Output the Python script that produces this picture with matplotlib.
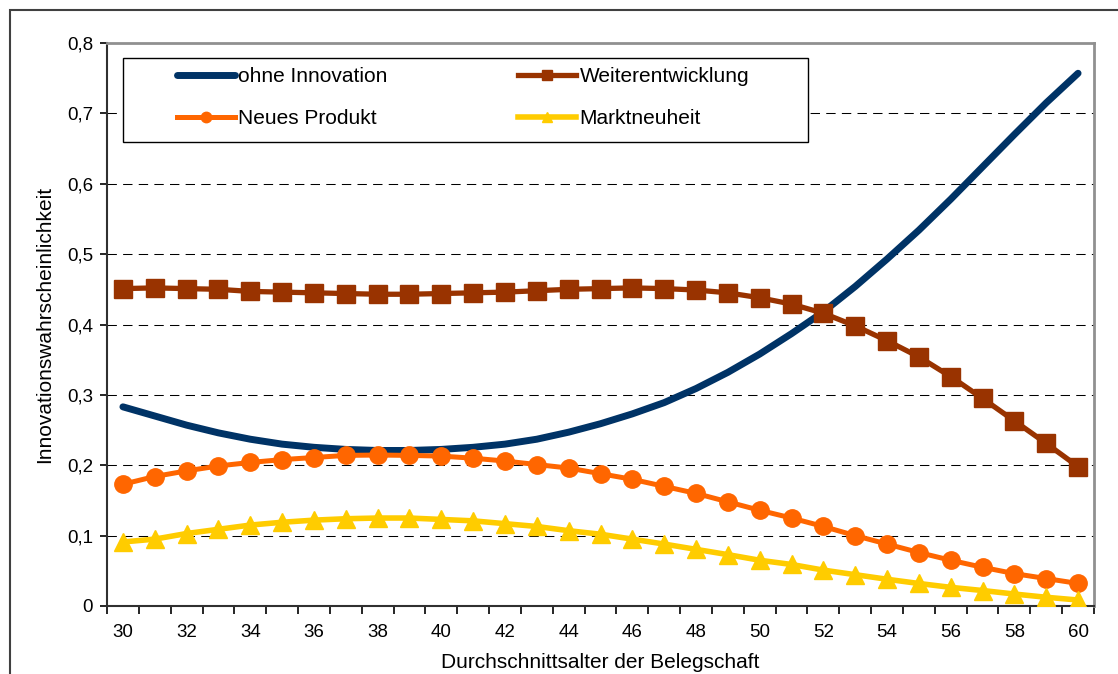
import matplotlib
matplotlib.use("Agg")
import matplotlib.pyplot as plt
from matplotlib.patches import Rectangle
import numpy as np

plt.rcParams['font.family'] = ['Liberation Sans', 'DejaVu Sans']

# Daten
alter = list(range(30, 61))
ohne_innovation = [0.283, 0.270, 0.257, 0.246, 0.237, 0.230, 0.2255, 0.2225, 0.221, 0.221,
                   0.2225, 0.2255, 0.230, 0.237, 0.247, 0.259, 0.273, 0.289, 0.309, 0.332,
                   0.358, 0.387, 0.418, 0.454, 0.493, 0.534, 0.578, 0.624, 0.670, 0.715, 0.757]
weiterentwicklung = [0.451, 0.452, 0.451, 0.450, 0.447, 0.446, 0.445, 0.444, 0.443, 0.443,
                     0.444, 0.445, 0.446, 0.448, 0.450, 0.451, 0.452, 0.451, 0.449, 0.445,
                     0.438, 0.429, 0.416, 0.398, 0.377, 0.354, 0.326, 0.295, 0.263, 0.231, 0.198]
neues_produkt = [0.173, 0.184, 0.192, 0.199, 0.204, 0.208, 0.211, 0.214, 0.2145, 0.214,
                 0.213, 0.210, 0.206, 0.201, 0.196, 0.188, 0.180, 0.170, 0.160, 0.148,
                 0.136, 0.125, 0.113, 0.100, 0.088, 0.076, 0.065, 0.055, 0.046, 0.039, 0.032]
marktneuheit = [0.091, 0.095, 0.103, 0.109, 0.115, 0.119, 0.122, 0.124, 0.125, 0.125,
                0.123, 0.121, 0.117, 0.113, 0.107, 0.102, 0.095, 0.088, 0.0805, 0.073,
                0.065, 0.059, 0.051, 0.0445, 0.038, 0.032, 0.0265, 0.022, 0.017, 0.0124, 0.0085]
y_ticks = [0, 0.1, 0.2, 0.3, 0.4, 0.5, 0.6, 0.7, 0.8]

W, H = 1118, 674
fig = plt.figure(figsize=(W / 100, H / 100), dpi=100)

# Rahmen um das Diagramm
fig.patches.append(Rectangle((10 / W, -0.1), 2, 1.1 - 10 / H, transform=fig.transFigure,
                             fill=False, edgecolor='#404040', linewidth=1.5))

ax = fig.add_axes([107 / W, (H - 606) / H, (1094 - 107) / W, (606 - 43) / H])
x = np.arange(len(alter))

# Gitterlinien
for yv in y_ticks[1:-1]:
    ax.axhline(yv, color='black', linewidth=0.75, linestyle=(0, (9, 6)), zorder=1)

ax.plot(x, ohne_innovation, color='#003366', linewidth=5, solid_capstyle='round',
        label='ohne Innovation', zorder=3)
ax.plot(x, weiterentwicklung, color='#993300', linewidth=3.8, marker='s', markersize=12.5,
        label='Weiterentwicklung', zorder=3)
ax.plot(x, neues_produkt, color='#FF6600', linewidth=3.6, marker='o', markersize=12.5,
        label='Neues Produkt', zorder=3)
ax.plot(x, marktneuheit, color='#FFCC00', linewidth=4, marker='^', markersize=12.5,
        label='Marktneuheit', zorder=3)

ax.set_xlim(-0.5, len(alter) - 0.5)
ax.set_ylim(0, 0.8)

ax.set_yticks(y_ticks)
ax.set_yticklabels([('%g' % v).replace('.', ',') for v in y_ticks])
ax.tick_params(axis='y', direction='out', length=5, width=1.2, pad=5, labelsize=13.5)

# Striche zwischen den Kategorien, Beschriftung jede zweite Kategorie
ax.set_xticks(np.arange(-0.5, len(alter), 1))
ax.set_xticklabels([])
ax.set_xticks(x[::2], minor=True)
ax.set_xticklabels([str(a) for a in alter[::2]], minor=True)
ax.tick_params(axis='x', which='major', direction='out', length=6, width=1.2)
ax.tick_params(axis='x', which='minor', length=0, pad=13, labelsize=13.5)

for side in ['top', 'right']:
    ax.spines[side].set_color('#909090')
    ax.spines[side].set_linewidth(2)
for side in ['left', 'bottom']:
    ax.spines[side].set_color('#303030')
    ax.spines[side].set_linewidth(1.5)

ax.set_xlabel('Durchschnittsalter der Belegschaft', fontsize=15)
ax.set_ylabel('Innovationswahrscheinlichkeit', fontsize=15)
ax.xaxis.set_label_coords(0.5, (606 - 662) / 563)
ax.xaxis.label.set_va('center')
ax.yaxis.set_label_coords((45 - 107) / 987, 0.5)
ax.yaxis.label.set_va('center')

# Legende
fig.patches.append(Rectangle((123 / W, (H - 142) / H), (808 - 123) / W, (142 - 58) / H,
                             transform=fig.transFigure, facecolor='white',
                             edgecolor='black', linewidth=1, zorder=4))
h, l = ax.get_legend_handles_labels()
order = [0, 2, 1, 3]
leg = fig.legend([h[i] for i in order], [l[i] for i in order], ncol=2,
                 loc='upper left', bbox_to_anchor=(177 / W, (H - 67) / H),
                 frameon=False, fontsize=15, handlelength=2.8, handletextpad=0.15,
                 columnspacing=6.25, labelspacing=1.12, borderpad=0, borderaxespad=0,
                 numpoints=1, markerscale=0.6)
leg.set_zorder(5)

fig.savefig('out.png', dpi=100)
